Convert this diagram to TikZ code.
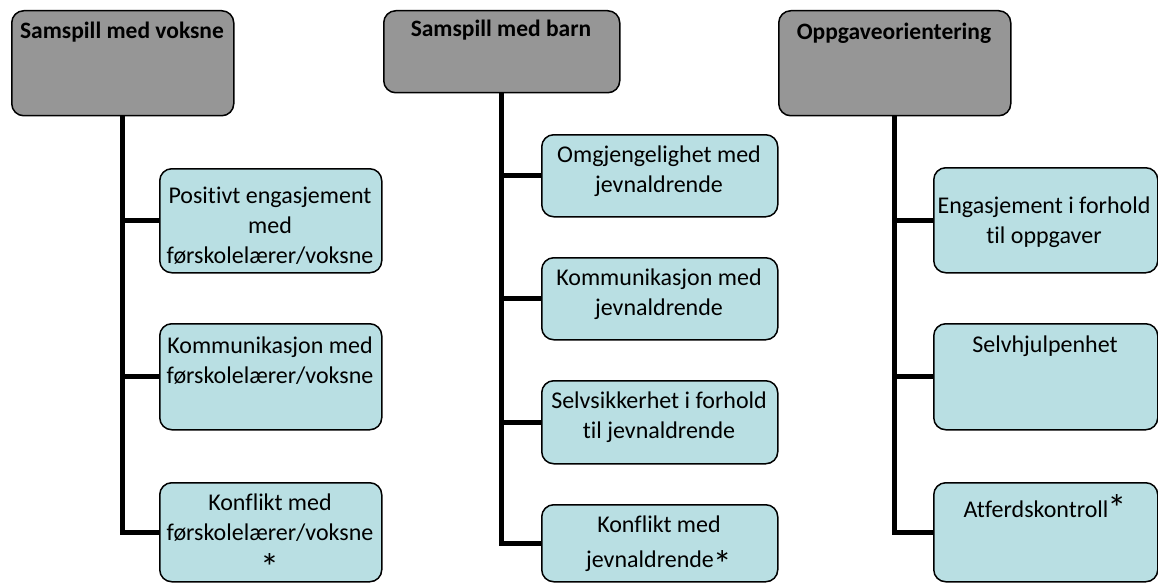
\documentclass[tikz,border=0pt]{standalone}
\usepackage{fontspec}
\setmainfont[Ligatures={NoCommon}]{Carlito}
\definecolor{hdrgray}{HTML}{969696}
\definecolor{kidblue}{HTML}{B9DFE3}
\newcommand{\bigast}[1]{\kern-1pt\smash{\raisebox{#1}{\fontsize{38}{38}\selectfont *}}}
\begin{document}
\begin{tikzpicture}[x=1pt,y=-1pt,
  hdr/.style={draw=black, line width=1.5pt, rounded corners=12pt, fill=hdrgray, anchor=north west, inner sep=0pt},
  kid/.style={draw=black, line width=1.5pt, rounded corners=12pt, fill=kidblue, anchor=north west, inner sep=0pt},
  lbl/.style={font=\fontsize{24}{30}\selectfont, align=center, anchor=base, inner sep=0pt},
  hlbl/.style={font=\fontsize{23.5}{28}\selectfont\bfseries, anchor=base, inner sep=0pt},
  conn/.style={line width=5pt}]
\useasboundingbox (0,0) rectangle (1158,583);
% headers
\node[hdr, minimum width=222pt, minimum height=105pt] (h1) at (11,10) {};
\node[hdr, minimum width=236pt, minimum height=82pt] (h2) at (383,10) {};
\node[hdr, minimum width=232pt, minimum height=105pt] (h3) at (778,10) {};
% children column 1
\node[kid, minimum width=222pt, minimum height=104pt] (k11) at (159,168) {};
\node[kid, minimum width=222pt, minimum height=106pt] (k12) at (159,323) {};
\node[kid, minimum width=222pt, minimum height=99pt] (k13) at (159,482) {};
% children column 2
\node[kid, minimum width=236pt, minimum height=82pt] (k21) at (541,134) {};
\node[kid, minimum width=236pt, minimum height=82pt] (k22) at (541,257) {};
\node[kid, minimum width=236pt, minimum height=83pt] (k23) at (541,380) {};
\node[kid, minimum width=236pt, minimum height=77pt] (k24) at (541,504) {};
% children column 3
\node[kid, minimum width=224pt, minimum height=105pt] (k31) at (933,167) {};
\node[kid, minimum width=224pt, minimum height=106pt] (k32) at (933,323) {};
\node[kid, minimum width=224pt, minimum height=99pt] (k33) at (933,482) {};
% connectors
\draw[conn] (h1.south) |- (k13.west);
\draw[conn] (k11.west) -- (k11.west -| h1.south);
\draw[conn] (k12.west) -- (k12.west -| h1.south);
\draw[conn] (h2.south) |- (k24.west);
\draw[conn] (k21.west) -- (k21.west -| h2.south);
\draw[conn] (k22.west) -- (k22.west -| h2.south);
\draw[conn] (k23.west) -- (k23.west -| h2.south);
\draw[conn] (h3.south) |- (k33.west);
\draw[conn] (k31.west) -- (k31.west -| h3.south);
\draw[conn] (k32.west) -- (k32.west -| h3.south);
% header texts
\node[hlbl] (t1) at (122,39) {Samspill med voksne};
\node[hlbl] (t2) at (501,37) {Samspill med barn};
\node[hlbl] (t3) at (894,40) {Oppgaveorientering};
% child texts (anchor = baseline of last line)
\node[lbl] (l11) at (270,263) {Positivt engasjement\\med\\førskolelærer/voksne};
\node[lbl] (l12) at (270,383) {Kommunikasjon med\\førskolelærer/voksne};
\node[lbl] (l13) at (270,572) {Konflikt med\\førskolelærer/voksne\\[2pt]\bigast{-8pt}};
\node[lbl] (l21) at (659,192) {Omgjengelighet med\\jevnaldrende};
\node[lbl] (l22) at (659,315) {Kommunikasjon med\\jevnaldrende};
\node[lbl] (l23) at (659,438) {Selvsikkerhet i forhold\\til jevnaldrende};
\node[lbl] (l24) at (659,567) {Konflikt med\\[5pt]jevnaldrende\bigast{-10pt}};
\node[lbl] (l31) at (1044,243) {Engasjement i forhold\\til oppgaver};
\node[lbl] (l32) at (1045,352) {Selvhjulpenhet};
\node[lbl] (l33) at (1045,517) {Atferdskontroll\bigast{-4pt}};
\end{tikzpicture}
\end{document}
